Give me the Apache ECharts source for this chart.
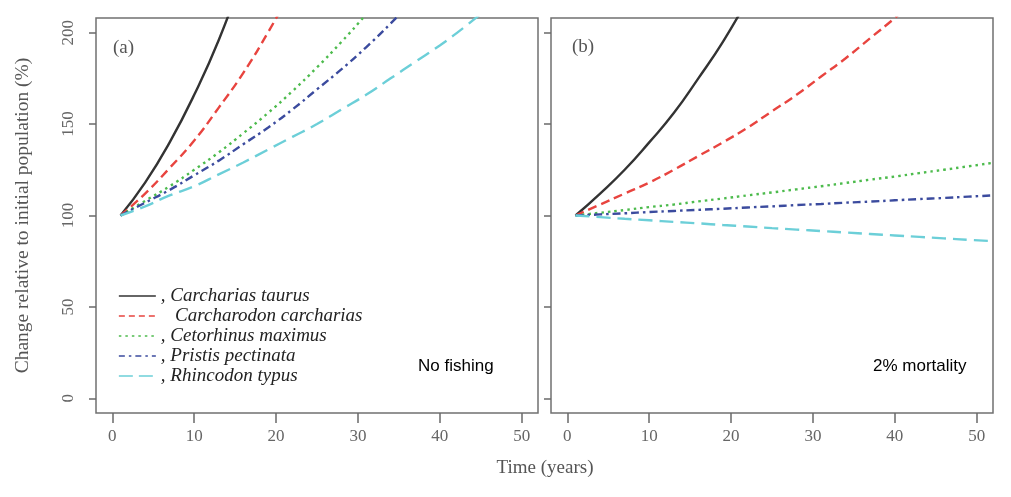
<!DOCTYPE html>
<html>
<head>
<meta charset="utf-8">
<script src="https://cdn.jsdelivr.net/npm/echarts@6/dist/echarts.min.js"></script>
<style>
html,body{margin:0;padding:0;background:#fff;}
#chart{width:1011px;height:497px;}
</style>
</head>
<body>
<div id="chart"></div>
<script>
// ---- data ----
var years = [1, 4, 7, 10, 13, 16, 19, 22, 25, 28, 31, 34, 37, 40, 43, 46, 49, 52];
var speciesNames = ['Carcharias taurus', 'Carcharodon carcharias', 'Cetorhinus maximus', 'Pristis pectinata', 'Rhincodon typus'];

// (a) No fishing
var aTaurus      = [100, 118, 140, 166, 196, 232, null, null, null, null, null, null, null, null, null, null, null, null];
var aCarcharias  = [100, 112, 126, 141, 159, 178, 200, 224, null, null, null, null, null, null, null, null, null, null];
var aMaximus     = [100, 108, 116, 125, 134.5, 145, 156, 168, 181, 195, 210, 226, null, null, null, null, null, null];
var aPectinata   = [100, 107, 114, 122, 130, 139, 148, 158, 169, 180, 192, 205, 219, null, null, null, null, null];
var aTypus       = [100, 105, 111, 116, 122.5, 129, 136, 143, 150, 158, 166, 175, 184, 193, 203, 214, null, null];

// (b) 2% mortality
var bTaurus      = [100, 112, 125, 140, 156, 175, 195, 218, null, null, null, null, null, null, null, null, null, null];
var bCarcharias  = [100, 106, 112, 118, 125, 132.5, 140, 148, 157, 166, 176, 186, 197, 208, 220, null, null, null];
var bMaximus     = [100, 101.5, 103, 104.6, 106, 107.7, 109.3, 111, 112.6, 114.3, 116, 117.8, 119.6, 121.3, 123.2, 125, 126.9, 128.8];
var bPectinata   = [100, 100.6, 101.2, 101.9, 102.5, 103.1, 103.7, 104.4, 105.0, 105.7, 106.3, 107.0, 107.6, 108.3, 109.0, 109.6, 110.3, 111.0];
var bTypus       = [100, 99.1, 98.2, 97.4, 96.5, 95.7, 94.8, 94.0, 93.1, 92.3, 91.5, 90.7, 89.9, 89.1, 88.3, 87.5, 86.7, 86.0];

var xTicks = [0, 10, 20, 30, 40, 50];
var yTicks = [0, 50, 100, 150, 200];

// ---- styles ----
var styles = [
  {color: '#333333', type: 'solid', legendType: 'solid'},
  {color: '#e8443f', type: [9, 5], legendType: [6, 4]},
  {color: '#4dbb4d', type: [2.5, 4], legendType: [2.5, 4]},
  {color: '#3b4b9e', type: [8, 4, 2.5, 4], legendType: [6, 4, 2.5, 4]},
  {color: '#6ccfd8', type: [14, 7], legendType: [14, 6]}
];
var panelA = [aTaurus, aCarcharias, aMaximus, aPectinata, aTypus];
var panelB = [bTaurus, bCarcharias, bMaximus, bPectinata, bTypus];

function pairs(vals) { return years.map(function (y, i) { return [y, vals[i]]; }); }

var serif = 'Liberation Serif';
var tickColor = '#6a6a6a';

function makeX(idx) {
  return {
    type: 'value', gridIndex: idx, min: -2, max: 52,
    axisLine: {show: false, onZero: false},
    axisTick: {show: true, length: 10, customValues: xTicks, lineStyle: {color: tickColor, width: 1.5}},
    axisLabel: {customValues: xTicks, margin: 15, fontFamily: serif, fontSize: 17, color: '#666'},
    splitLine: {show: false}
  };
}
function makeY(idx, showLabels) {
  var y = {
    type: 'value', gridIndex: idx, min: -8, max: 208,
    axisLine: {show: false, onZero: false},
    axisTick: {show: true, length: 7, customValues: yTicks, lineStyle: {color: tickColor, width: 1.5}},
    axisLabel: {show: showLabels, customValues: yTicks, rotate: 90, margin: 19, fontFamily: serif, fontSize: 17, color: '#666'},
    splitLine: {show: false}
  };
  if (showLabels) {
    y.name = 'Change relative to initial population (%)';
    y.nameLocation = 'middle';
    y.nameGap = 63;
    y.nameRotate = 90;
    y.nameTextStyle = {fontFamily: serif, fontSize: 19.5, color: '#555'};
  }
  return y;
}

var series = [];
[panelA, panelB].forEach(function (panel, p) {
  panel.forEach(function (vals, i) {
    series.push({
      type: 'line', name: speciesNames[i], xAxisIndex: p, yAxisIndex: p,
      data: pairs(vals), smooth: true, showSymbol: false, symbol: 'none',
      clip: true, silent: true,
      lineStyle: {color: styles[i].color, type: styles[i].type, width: 2.4},
      itemStyle: {color: styles[i].color}
    });
  });
});

var legendData = speciesNames.map(function (n, i) {
  return {name: n, lineStyle: {type: styles[i].legendType, width: 1.7}};
});

var chart = echarts.init(document.getElementById('chart'), null, {renderer: 'canvas'});
chart.setOption({
  animation: false,
  backgroundColor: '#ffffff',
  grid: [
    {left: 96, top: 18, width: 442, height: 395, show: true, borderColor: '#707070', borderWidth: 1.5, containLabel: false, outerBoundsMode: 'none'},
    {left: 551, top: 18, width: 442, height: 395, show: true, borderColor: '#707070', borderWidth: 1.5, containLabel: false, outerBoundsMode: 'none'}
  ],
  xAxis: [makeX(0), makeX(1)],
  yAxis: [makeY(0, true), makeY(1, false)],
  legend: {
    show: true, orient: 'vertical', left: 118, top: 286, padding: 0,
    itemWidth: 37, itemHeight: 14, itemGap: 0, selectedMode: false,
    data: legendData,
    lineStyle: {width: 1.7},
    itemStyle: {color: 'rgba(0,0,0,0)', borderColor: 'rgba(0,0,0,0)', borderWidth: 0, opacity: 0},
    formatter: function (name) { return (name === 'Carcharodon carcharias' ? '\u2002 ' : ', ') + name; },
    textStyle: {fontFamily: serif, fontStyle: 'italic', fontSize: 19, color: '#222', lineHeight: 20}
  },
  graphic: [
    {type: 'text', left: 113, top: 39, style: {text: '(a)', fontFamily: serif, fontSize: 19, fill: '#555'}},
    {type: 'text', left: 572, top: 38, style: {text: '(b)', fontFamily: serif, fontSize: 19, fill: '#555'}},
    {type: 'text', left: 418, top: 358, style: {text: 'No fishing', fontFamily: 'Liberation Sans', fontSize: 17, fill: '#000'}},
    {type: 'text', left: 873, top: 358, style: {text: '2% mortality', fontFamily: 'Liberation Sans', fontSize: 17, fill: '#000'}},
    {type: 'text', x: 545, y: 468, style: {text: 'Time (years)', fontFamily: serif, fontSize: 19, fill: '#555', align: 'center', verticalAlign: 'middle'}}
  ],
  series: series
});
</script>
</body>
</html>
